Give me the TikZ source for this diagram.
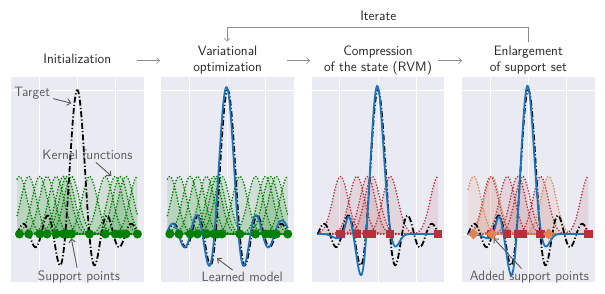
\documentclass[tikz,border=0pt]{standalone}
\usepackage{xcolor}
\usepackage{tikz}
\usetikzlibrary{arrows.meta,positioning,shapes.geometric,calc}
\definecolor{panelbg}{HTML}{EAEAF2}
\definecolor{kgreen}{HTML}{008000}
\definecolor{kred}{HTML}{B2333B}
\definecolor{korange}{HTML}{DD8452}
\definecolor{modelblue}{HTML}{1B75BC}
\definecolor{inkgrey}{HTML}{5A5A5A}
\definecolor{flowgrey}{HTML}{8A8A8A}
\tikzset{
  panelbox/.style={draw=none, fill=panelbg, minimum width=132.4pt, minimum height=205.3pt, inner sep=0pt},
  gridln/.style={white, line width=0.9pt},
  ptitle/.style={font=\fontsize{13.6}{16}\selectfont\sffamily, text=black!85, align=center, inner sep=0pt},
  plabel/.style={font=\fontsize{13.6}{16}\selectfont\sffamily, text=inkgrey, inner sep=1pt},
  farrow/.style={-{Straight Barb[length=3pt, width=6pt]}, flowgrey, line width=0.6pt},
  larrow/.style={-{Straight Barb[length=3.5pt, width=6.5pt]}, inkgrey, line width=0.9pt, shorten <=2pt},
  targetln/.style={black, line width=1.8pt, dash pattern=on 6pt off 2.2pt on 1.2pt off 2.2pt},
  modelln/.style={modelblue, line width=1.8pt},
  kdots/.style={line width=1.8pt, line cap=round, dash pattern=on 0pt off 3pt},
  ptcircle/.style={circle, fill=kgreen, inner sep=0pt, minimum size=9pt},
  ptsquare/.style={rectangle, fill=kred, inner sep=0pt, minimum size=8.5pt},
  ptdiamond/.style={diamond, fill=korange, inner sep=0pt, minimum size=11pt},
}
% support sets
\newcommand\initpts{-15.1,-12.7,-9.8,-7.9,-5.5,-3.6,-2.7,-1.5,3.2,7.3,9.9,11.2,12.7,15.7}
\newcommand\keptpts{-9.8,-5.5,-2.7,-1.5,3.2,15.7}
\newcommand\addedpts{-14.3,-9.5,5.3}
% grid of one panel, in data coordinates
\newcommand\panelgrid{%
  \foreach \g in {-10,0,10} {\draw[gridln] (\g,-0.333) -- (\g,1.092);}
  \foreach \g in {0,1} {\draw[gridln] (-17.28,\g) -- (17.28,\g);}}
% one kernel function: #1 centre, #2 colour
\newcommand\kernelbump[2]{%
  \fill[#2, fill opacity=0.11] plot[domain=-15.708:15.708, samples=90] (\x,{kern(\x,#1)}) -- (15.708,0) -- (-15.708,0) -- cycle;
  \draw[kdots, #2] plot[domain=-15.708:15.708, samples=90] (\x,{kern(\x,#1)});}

\begin{document}
\begin{tikzpicture}[x=1pt, y=-1pt, declare function={
    sincf(\kx)=sin(\kx r)/\kx;
    kern(\kx,\kc)=0.4*exp(-((\kx-\kc)^2)/8);
    learnm(\kx)=1.02*sincf(\kx+0.3)+0.06*exp(-((\kx-15.7)^2)/3);
    compm(\kx)=1.03*exp(-((\kx+0.2)^2)/5)-0.32*exp(-((\kx+4.2)^2)/3)+0.13*exp(-((\kx+7.6)^2)/1.5)-0.03*exp(-((\kx+10.5)^2)/4)-0.1*exp(-((\kx-4.3)^2)/3);
  }]
  \useasboundingbox (0,0) rectangle (605,294);

  % titles and flow
  \node[ptitle] (init) at (77.3,58.5) {Initialization};
  \node[ptitle] (varopt) at (227.6,60) {Variational\\optimization};
  \node[ptitle] (compress) at (378,60) {Compression\\of the state (RVM)};
  \node[ptitle] (enlarge) at (528.3,60) {Enlargement\\of support set};
  \node[ptitle] (iterate) at (378.3,15.7) {Iterate};
  \coordinate (fa1) at (137,60.7); \coordinate (fb1) at (160,60.7);
  \coordinate (fa2) at (287,60.7); \coordinate (fb2) at (310,60.7);
  \coordinate (fa3) at (438,60.7); \coordinate (fb3) at (462,60.7);
  \draw[farrow] (fa1) -- (fb1);
  \draw[farrow] (fa2) -- (fb2);
  \draw[farrow] (fa3) -- (fb3);
  \coordinate (itR) at (528.3,41.7);
  \coordinate (itL) at (227,41.7);
  \draw[farrow] (itR) -- ++(0,-14.4) -| (itL);

  % panels
  \foreach \cx [count=\i] in {77.3,227.63,377.97,528.3}
    \node[panelbox] (p\i) at (\cx,179.35) {};

  % initialization
  \begin{scope}[shift={(77.3,234)}, x=3.83pt, y=144pt]
    \panelgrid
    \foreach \ctr in \initpts {\kernelbump{\ctr}{kgreen}}
    \draw[targetln] plot[domain=-15.708:15.708, samples=200] (\x,{sincf(\x)});
    \foreach \ctr [count=\i] in \initpts {\node[ptcircle] (ia\i) at (\ctr,0) {};}
    \coordinate (tgtpt) at (-1.57,0.908);
    \coordinate (kernpt) at (8.88,0.403);
    \coordinate (suppt) at (-1.57,-0.03);
  \end{scope}

  % variational optimization
  \begin{scope}[shift={(227.63,234)}, x=3.83pt, y=144pt]
    \panelgrid
    \foreach \ctr in \initpts {\kernelbump{\ctr}{kgreen}}
    \draw[targetln] plot[domain=-15.708:15.708, samples=200] (\x,{sincf(\x)});
    \draw[modelln] plot[domain=-15.708:15.708, samples=200] (\x,{learnm(\x)});
    \foreach \ctr [count=\i] in \initpts {\node[ptcircle] (vo\i) at (\ctr,0) {};}
    \coordinate (lrnpt) at (-2.77,-0.169);
  \end{scope}

  % compression
  \begin{scope}[shift={(377.97,234)}, x=3.83pt, y=144pt]
    \panelgrid
    \foreach \ctr in \keptpts {\kernelbump{\ctr}{kred}}
    \draw[targetln] plot[domain=-15.708:15.708, samples=200] (\x,{sincf(\x)});
    \draw[modelln] plot[domain=-15.708:15.708, samples=200] (\x,{compm(\x)});
    \foreach \ctr [count=\i] in \keptpts {\node[ptsquare] (cs\i) at (\ctr,0) {};}
  \end{scope}

  % enlargement
  \begin{scope}[shift={(528.3,234)}, x=3.83pt, y=144pt]
    \panelgrid
    \foreach \ctr in \keptpts {\kernelbump{\ctr}{kred}}
    \foreach \ctr in \addedpts {\kernelbump{\ctr}{korange}}
    \draw[targetln] plot[domain=-15.708:15.708, samples=200] (\x,{sincf(\x)});
    \draw[modelln] plot[domain=-15.708:15.708, samples=200] (\x,{compm(\x)});
    \foreach \ctr [count=\i] in \keptpts {\node[ptsquare] (es\i) at (\ctr,0) {};}
    \foreach \ctr [count=\i] in \addedpts {\node[ptdiamond] (ed\i) at (\ctr,0) {};}
    \coordinate (addpt) at (-9.03,-0.03);
  \end{scope}

  % annotations
  \node[plabel] (lbltarget) at (32.1,93.3) {Target};
  \node[plabel] (lblkernel) at (87.5,155) {Kernel functions};
  \node[plabel] (lblsupport) at (79,277.3) {Support points};
  \node[plabel] (lbllearned) at (242.2,277.3) {Learned model};
  \node[plabel] (lbladded) at (529.5,277.3) {Added support points};
  \draw[larrow] (lbltarget) -- (tgtpt);
  \draw[larrow] (lblkernel) -- (kernpt);
  \draw[larrow] (lblsupport) -- (suppt);
  \draw[larrow] (lbllearned) -- (lrnpt);
  \draw[larrow] (lbladded) -- (addpt);
\end{tikzpicture}
\end{document}
